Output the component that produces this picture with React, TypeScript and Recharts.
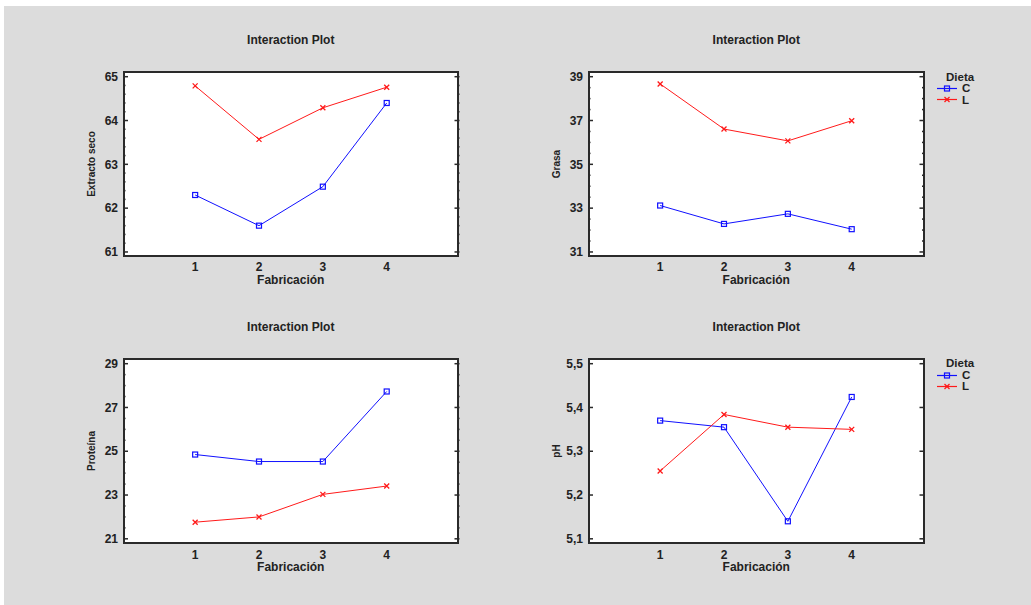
import { LineChart, Line, XAxis, YAxis } from 'recharts';

const fabricacion = [1, 2, 3, 4];

const extractoC = [62.3, 61.6, 62.49, 64.4];
const extractoL = [64.79, 63.57, 64.29, 64.76];
const grasaC = [33.12, 32.28, 32.74, 32.04];
const grasaL = [38.67, 36.61, 36.07, 36.99];
const proteinaC = [24.85, 24.53, 24.53, 27.73];
const proteinaL = [21.76, 22.0, 23.03, 23.41];
const phC = [5.37, 5.355, 5.14, 5.424];
const phL = [5.255, 5.384, 5.355, 5.35];

const extractoTicks = [61, 62, 63, 64, 65];
const grasaTicks = [31, 33, 35, 37, 39];
const proteinaTicks = [21, 23, 25, 27, 29];
const phTicks = [5.1, 5.2, 5.3, 5.4, 5.5];
const phTickLabels = ['5,1', '5,2', '5,3', '5,4', '5,5'];

const dietas = ['C', 'L'];

const FONT = '"Liberation Sans", Arial, sans-serif';
const BLUE = '#1010ff';
const RED = '#ff1a1a';
const AXIS = '#2a2a2a';
const X_DOMAIN: [number, number] = [-0.13, 5.14];
const ML = 70;
const MT = 40;
const MR = 10;
const MB = 40;

interface PanelProps {
  left: number;
  top: number;
  width: number;
  height: number;
  yDomain: [number, number];
  majors: number[];
  labels: string[];
  minorStep: number;
  yLabel: string;
  c: number[];
  l: number[];
  legend?: boolean;
}

function Square(props: any) {
  const { cx, cy, index } = props;
  return (
    <rect key={`s${index}`} x={cx - 2.5} y={cy - 2.5} width={5} height={5} fill="none" stroke={BLUE} strokeWidth={1.2} />
  );
}

function Cross(props: any) {
  const { cx, cy, index } = props;
  return (
    <path key={`x${index}`} d={`M${cx - 2.5},${cy - 2.5}L${cx + 2.5},${cy + 2.5}M${cx - 2.5},${cy + 2.5}L${cx + 2.5},${cy - 2.5}`} stroke={RED} strokeWidth={1.3} />
  );
}

function Panel({ left, top, width, height, yDomain, majors, labels, minorStep, yLabel, c, l, legend }: PanelProps) {
  const data = fabricacion.map((f, i) => ({ x: f, c: c[i], l: l[i] }));

  // major ticks plus the small unlabelled ones between them
  const allTicks: number[] = [];
  for (let i = 0; i < majors.length; i++) {
    allTicks.push(majors[i]);
    if (minorStep > 0 && i < majors.length - 1) {
      for (let v = majors[i] + minorStep; v < majors[i + 1] - 1e-6; v += minorStep) {
        allTicks.push(Number(v.toFixed(4)));
      }
    }
  }

  const renderYTick = (props: any) => {
    const { y, payload } = props;
    const idx = majors.findIndex((m) => Math.abs(m - payload.value) < 1e-6);
    const len = idx >= 0 ? 5 : 2.5;
    return (
      <g>
        <line x1={ML} x2={ML + len} y1={y} y2={y} stroke={AXIS} strokeWidth={1.5} />
        <line x1={ML + width - len} x2={ML + width} y1={y} y2={y} stroke={AXIS} strokeWidth={1.5} />
        {idx >= 0 && (
          <text x={ML - 5} y={y} dy="0.35em" textAnchor="end" fontFamily={FONT} fontWeight="bold" fontSize={12} fill="#222">
            {labels[idx]}
          </text>
        )}
      </g>
    );
  };

  const renderXTick = (props: any) => {
    const { x, payload } = props;
    return (
      <text x={x} y={MT + height + 10} dy="0.35em" textAnchor="middle" fontFamily={FONT} fontWeight="bold" fontSize={12} fill="#222">
        {payload.value}
      </text>
    );
  };

  const textStyle = {
    position: 'absolute' as const,
    fontFamily: FONT,
    fontWeight: 'bold' as const,
    color: '#222',
    whiteSpace: 'nowrap' as const,
    lineHeight: 1,
  };

  return (
    <>
      <div
        style={{
          position: 'absolute',
          left,
          top,
          width,
          height,
          background: '#fff',
          border: `2px solid ${AXIS}`,
          boxSizing: 'border-box',
        }}
      />
      <div style={{ ...textStyle, fontSize: 12, left: left + width / 2, top: top - 31, transform: 'translate(-50%, -50%)' }}>
        Interaction Plot
      </div>
      <div style={{ ...textStyle, fontSize: 12, left: left + width / 2, top: top + height + 23, transform: 'translate(-50%, -50%)' }}>
        Fabricación
      </div>
      <div style={{ ...textStyle, fontSize: 10, left: left - 31, top: top + height / 2, transform: 'translate(-50%, -50%) rotate(-90deg)' }}>
        {yLabel}
      </div>
      <div style={{ position: 'absolute', left: left - ML, top: top - MT }}>
        <LineChart width={ML + width + MR} height={MT + height + MB} data={data} margin={{ top: MT, right: MR, left: 0, bottom: 0 }}>
          <XAxis
            type="number"
            dataKey="x"
            domain={X_DOMAIN}
            ticks={fabricacion}
            allowDataOverflow
            axisLine={false}
            tickLine={false}
            tickSize={0}
            height={MB}
            tick={renderXTick}
            interval={0}
          />
          <YAxis
            type="number"
            domain={yDomain}
            ticks={allTicks}
            allowDataOverflow
            axisLine={false}
            tickLine={false}
            tickSize={0}
            width={ML}
            tick={renderYTick}
            interval={0}
          />
          <Line dataKey="c" stroke={BLUE} strokeWidth={1} dot={Square} activeDot={false} isAnimationActive={false} />
          <Line dataKey="l" stroke={RED} strokeWidth={1} dot={Cross} activeDot={false} isAnimationActive={false} />
        </LineChart>
      </div>
      {legend && (
        <div style={{ position: 'absolute', left: 937, top: top }}>
          <div style={{ ...textStyle, fontSize: 11.5, left: 9, top: 0.5 }}>Dieta</div>
          <svg width={40} height={36} style={{ position: 'absolute', left: 0, top: 10 }}>
            <line x1={0} x2={20} y1={7.5} y2={7.5} stroke={BLUE} strokeWidth={1.2} />
            <rect x={7.5} y={5} width={5} height={5} fill="none" stroke={BLUE} strokeWidth={1.2} />
            <line x1={0} x2={20} y1={18.5} y2={18.5} stroke={RED} strokeWidth={1.2} />
            <path d="M7.5,16L12.5,21M7.5,21L12.5,16" stroke={RED} strokeWidth={1.3} />
          </svg>
          <div style={{ ...textStyle, fontSize: 11.5, left: 25, top: 12 }}>{dietas[0]}</div>
          <div style={{ ...textStyle, fontSize: 11.5, left: 25, top: 23.5 }}>{dietas[1]}</div>
        </div>
      )}
    </>
  );
}

export default function App() {
  return (
    <div style={{ position: 'absolute', left: 0, top: 0, width: 1031, height: 605, background: '#fff', overflow: 'hidden' }}>
      <div style={{ position: 'absolute', left: 4, top: 6, width: 1027, height: 599, background: '#dcdcdc' }} />
      <Panel
        left={122.5}
        top={71}
        width={336.5}
        height={186}
        yDomain={[60.885, 65.13]}
        majors={extractoTicks}
        labels={extractoTicks.map(String)}
        minorStep={0.2}
        yLabel="Extracto seco"
        c={extractoC}
        l={extractoL}
      />
      <Panel
        left={588}
        top={71}
        width={336.5}
        height={186}
        yDomain={[30.77, 39.26]}
        majors={grasaTicks}
        labels={grasaTicks.map(String)}
        minorStep={0.5}
        yLabel="Grasa"
        c={grasaC}
        l={grasaL}
        legend
      />
      <Panel
        left={122.5}
        top={357.5}
        width={336.5}
        height={186.5}
        yDomain={[20.74, 29.26]}
        majors={proteinaTicks}
        labels={proteinaTicks.map(String)}
        minorStep={0.5}
        yLabel="Proteína"
        c={proteinaC}
        l={proteinaL}
      />
      <Panel
        left={588}
        top={357.5}
        width={336.5}
        height={186.5}
        yDomain={[5.087, 5.513]}
        majors={phTicks}
        labels={phTickLabels}
        minorStep={0}
        yLabel="pH"
        c={phC}
        l={phL}
        legend
      />
    </div>
  );
}
